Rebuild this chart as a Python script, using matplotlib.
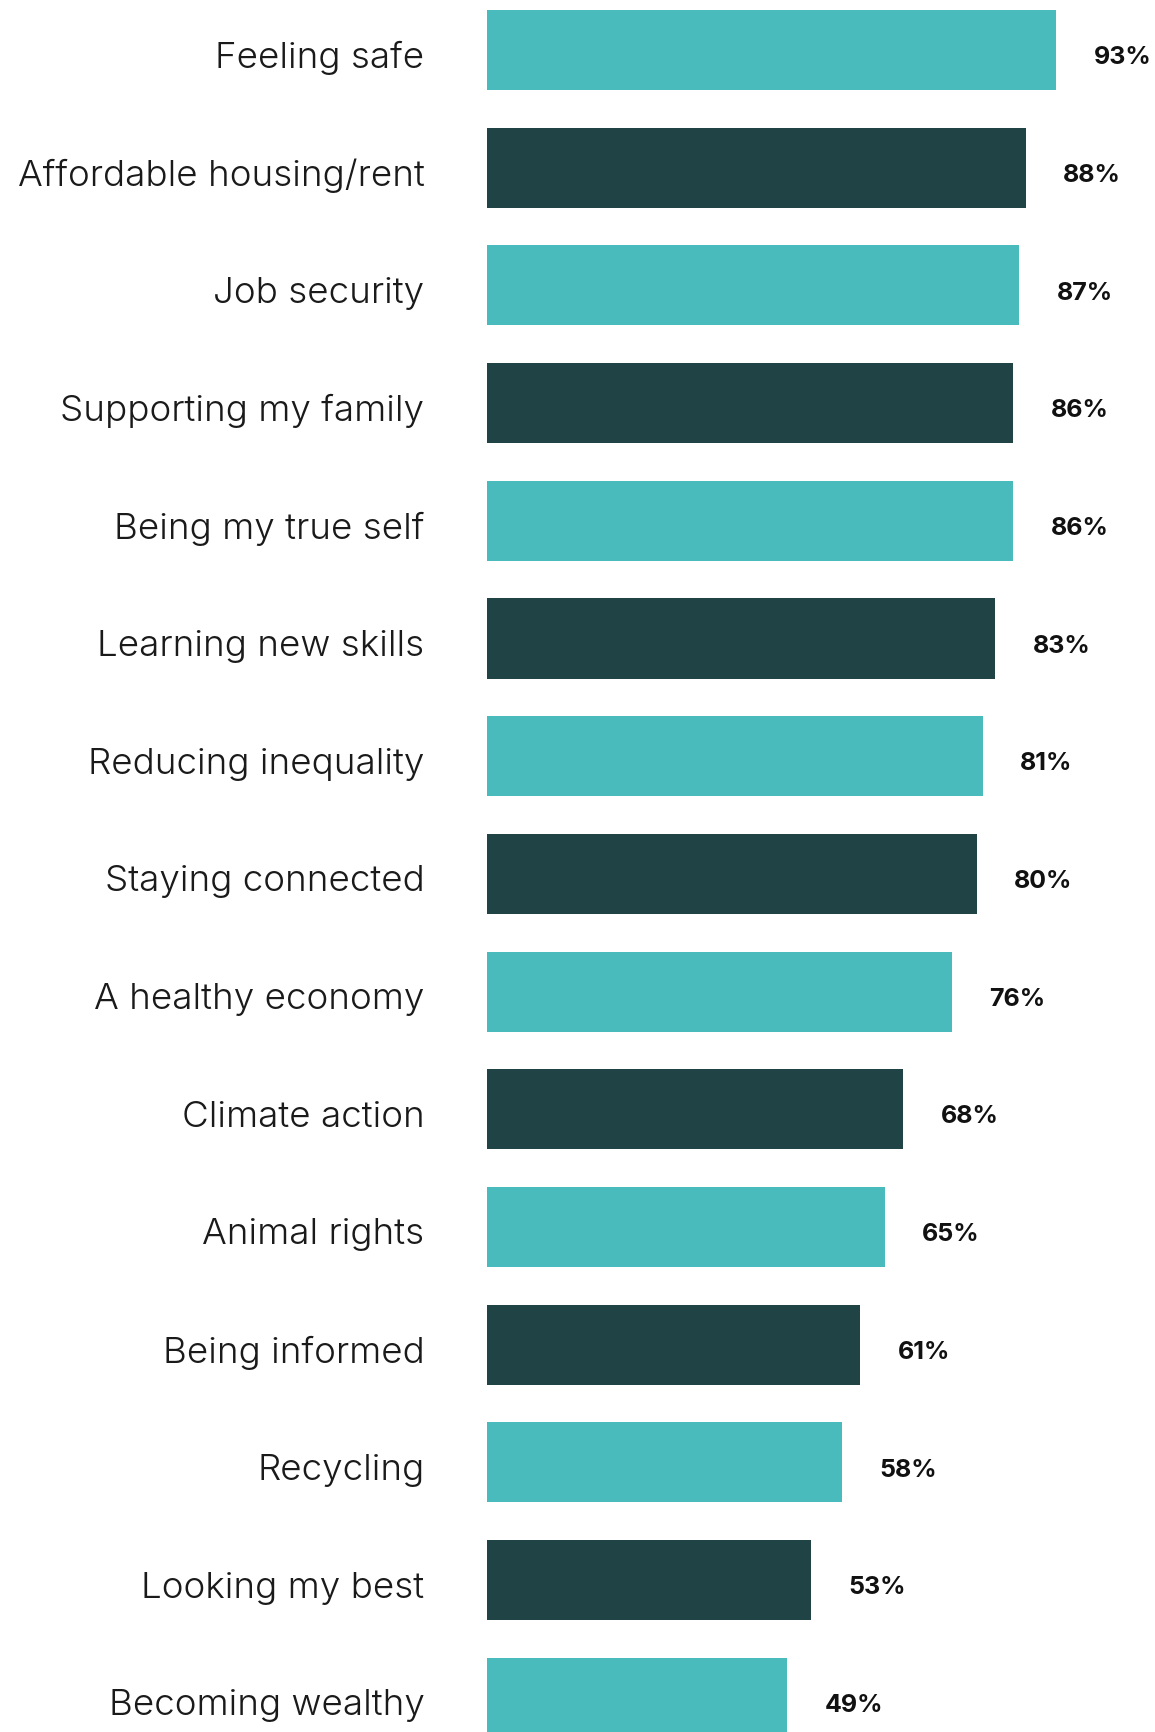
import matplotlib.pyplot as plt
import numpy as np
from matplotlib import font_manager

# Values
categories = ['Feeling safe', 'Affordable housing/rent', 'Job security',
              'Supporting my family', 'Being my true self', 'Learning new skills',
              'Reducing inequality', 'Staying connected', 'A healthy economy',
              'Climate action', 'Animal rights', 'Being informed', 'Recycling',
              'Looking my best', 'Becoming wealthy']
values = [93, 88, 87, 86, 86, 83, 81, 80, 76, 68, 65, 61, 58, 53, 49]

teal = '#4abbbc'
dark = '#204446'
colors = [teal if i % 2 == 0 else dark for i in range(len(values))]


def font_file(name):
    for f in font_manager.fontManager.ttflist:
        if f.fname.endswith(name):
            return f.fname
    return None


light = font_file('Inter-Light.otf')
bold = font_file('Inter-Bold.otf')
label_font = font_manager.FontProperties(fname=light, size=26.5) if light else \
    font_manager.FontProperties(family='Inter', weight=300, size=26.5)
value_font = font_manager.FontProperties(fname=bold, size=18) if bold else \
    font_manager.FontProperties(family='Inter', weight='bold', size=18)

fig = plt.figure(figsize=(11.55, 17.33), dpi=100)
left = 487 / 1155
ax = fig.add_axes([left, 0, 1 - left, 1])

y = np.arange(len(categories))
ax.barh(y, values, height=0.68, color=colors)

# value labels next to each bar
for yi, v in zip(y, values):
    ax.annotate(f'{v}%', (v, yi), xytext=(27, -3), textcoords='offset points',
                va='center_baseline', ha='left', fontproperties=value_font,
                color='#111111')

# category labels right-aligned left of the bars
for yi, c in zip(y, categories):
    ax.annotate(c, (0, yi), xytext=(-45, -2.5), textcoords='offset points',
                va='center_baseline', ha='right', fontproperties=label_font,
                color='#1a1a1a', annotation_clip=False)

ax.set_xlim(0, (1155 - 487) / 6.12)
ax.set_ylim((1733 - 51) / 117.7, -51 / 117.7)
ax.set_xticks([])
ax.set_yticks([])
for s in ax.spines.values():
    s.set_visible(False)

fig.savefig('out.png', dpi=100)
